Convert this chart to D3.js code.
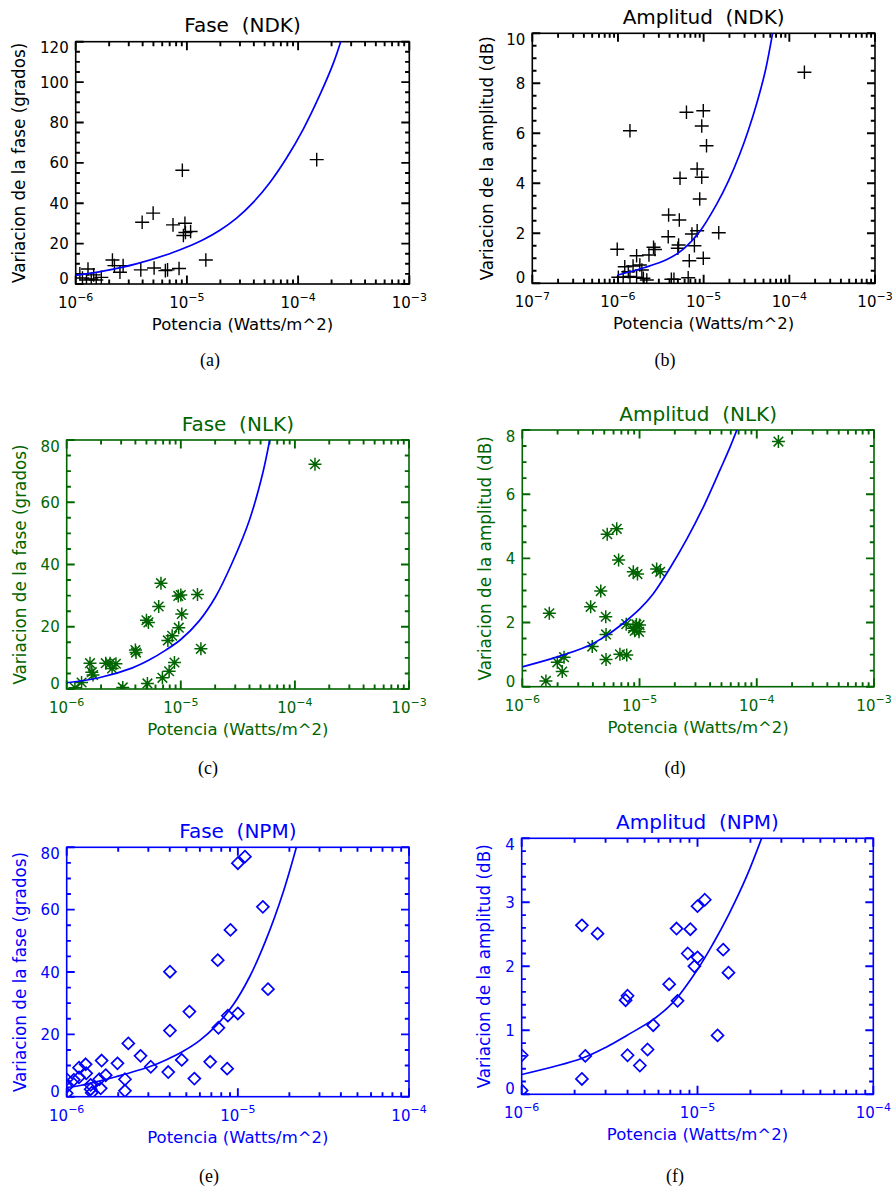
<!DOCTYPE html>
<html><head><meta charset="utf-8">
<script src="https://cdn.jsdelivr.net/npm/d3@7"></script>
<style>
body{margin:0;background:#fff}
svg{display:block;background:#fff}
text{font-family:"DejaVu Sans",sans-serif}
</style>
</head><body>
<svg id="chart" width="895" height="1190"></svg>
<script>
// ---------- DATA ----------
// (a) Fase (NDK)
const ndkFaseP = [1.09e-6,1.15e-6,1.25e-6,1.29e-6,1.38e-6,1.45e-6,1.53e-6,1.70e-6,2.14e-6,2.23e-6,2.50e-6,2.67e-6,3.85e-6,3.96e-6,4.97e-6,5.07e-6,6.40e-6,6.70e-6,7.50e-6,8.50e-6,9.10e-6,9.30e-6,9.60e-6,9.70e-6,1.08e-5,1.48e-5,1.47e-4];
const ndkFaseV = [5.0,3.0,2.0,7.4,2.5,4.5,2.0,3.3,11.9,9.1,5.8,9.1,7.0,30.6,35.1,7.9,6.6,7.0,29.3,7.7,56.3,24.0,30.1,25.5,26.0,11.9,61.6];
const ndkFaseFitP = [1e-6,1.76e-6,3.5e-6,7.0e-6,1e-5,1.4e-5,1.98e-5,2.8e-5,3.95e-5,5.6e-5,7.9e-5,1.12e-4,1.58e-4,2.08e-4,2.45e-4];
const ndkFaseFitV = [4.3,6.4,10.0,15.0,18.3,21.9,26.6,32.6,40.4,50.4,62.5,77.0,94.0,109.5,121.0];

// (b) Amplitud (NDK)
const ndkAmpP = [9.8e-7,1.01e-6,1.15e-6,1.20e-6,1.32e-6,1.38e-6,1.38e-6,1.50e-6,1.65e-6,1.65e-6,1.80e-6,1.90e-6,1.98e-6,2.17e-6,2.30e-6,2.60e-6,2.70e-6,3.86e-6,3.90e-6,4.20e-6,4.50e-6,5.00e-6,5.10e-6,5.20e-6,5.30e-6,6.30e-6,6.60e-6,6.80e-6,7.30e-6,7.80e-6,8.40e-6,8.40e-6,9.00e-6,9.50e-6,9.50e-6,9.90e-6,9.90e-6,1.08e-5,1.50e-5,1.50e-4];
const ndkAmpV = [1.36,0.24,0.24,0.66,0.46,6.10,0.27,0.69,1.10,0.24,0.73,0.53,0.20,0.13,1.13,1.44,1.35,1.86,2.73,0.16,0.16,1.40,1.53,2.53,4.20,6.84,0.22,0.90,1.97,1.50,4.57,2.10,3.37,6.29,4.24,6.90,1.00,5.50,2.02,8.44];
const ndkAmpFitP = [1e-6,2.0e-6,3.72e-6,5.75e-6,8.91e-6,1.41e-5,1.95e-5,2.63e-5,3.31e-5,4.17e-5,5.25e-5,6.45e-5];
const ndkAmpFitV = [0.33,0.62,0.95,1.36,2.05,3.15,4.1,5.15,6.1,7.2,8.5,10.1];

// (c) Fase (NLK)
const nlkFaseP = [1.18e-6,1.35e-6,1.60e-6,1.66e-6,1.70e-6,2.20e-6,2.40e-6,2.50e-6,2.70e-6,3.10e-6,4.00e-6,4.05e-6,5.00e-6,5.10e-6,5.20e-6,6.40e-6,6.70e-6,6.90e-6,7.70e-6,7.90e-6,8.40e-6,8.80e-6,9.50e-6,9.60e-6,1.00e-5,1.02e-5,1.40e-5,1.50e-5,1.50e-4];
const nlkFaseV = [0.4,2.1,8.3,5.4,4.5,8.3,8.3,6.6,8.1,0.5,12.5,11.7,22.1,1.8,21.4,26.5,34.0,3.6,15.6,5.7,17.1,8.5,29.9,19.7,30.2,24.1,30.4,12.9,72.2];
const nlkFaseFitP = [1e-6,1.92e-6,3.77e-6,5.27e-6,7.38e-6,1e-5,1.45e-5,2.03e-5,2.84e-5,3.97e-5,5.2e-5,6.05e-5];
const nlkFaseFitV = [2.0,3.6,6.8,9.3,12.5,15.9,21.9,29.8,40.8,54.0,69.0,80.5];

// (d) Amplitud (NLK)
const nlkAmpP = [1.59e-6,1.70e-6,1.99e-6,2.19e-6,2.27e-6,3.83e-6,3.95e-6,4.67e-6,5.15e-6,5.18e-6,5.18e-6,5.30e-6,6.39e-6,6.63e-6,6.80e-6,7.70e-6,7.78e-6,8.80e-6,8.85e-6,9.10e-6,9.40e-6,9.60e-6,9.90e-6,1.00e-5,1.40e-5,1.50e-5,1.53e-4];
const nlkAmpV = [0.18,2.29,0.76,0.47,0.92,2.49,1.25,2.98,2.18,1.63,0.85,4.75,4.92,3.95,1.01,1.95,0.99,1.82,3.58,1.74,1.94,3.51,1.71,1.92,3.67,3.58,7.64];
const nlkAmpFitP = [1e-6,1.84e-6,3.54e-6,5.25e-6,6.82e-6,1e-5,1.31e-5,1.82e-5,2.53e-5,3.5e-5,4.85e-5,5.89e-5,7.1e-5];
const nlkAmpFitV = [0.62,0.89,1.25,1.6,1.9,2.42,2.9,3.7,4.6,5.6,6.75,7.45,8.2];

// (e) Fase (NPM)
const npmFaseP = [1.0e-6,1.0e-6,1.0e-6,1.10e-6,1.18e-6,1.18e-6,1.29e-6,1.30e-6,1.38e-6,1.38e-6,1.40e-6,1.55e-6,1.58e-6,1.60e-6,1.69e-6,1.98e-6,2.19e-6,2.19e-6,2.29e-6,2.70e-6,3.10e-6,3.92e-6,4.01e-6,4.01e-6,4.70e-6,5.21e-6,5.57e-6,6.89e-6,7.63e-6,7.70e-6,8.66e-6,8.74e-6,9.05e-6,1.00e-5,1.00e-5,1.10e-5,1.40e-5,1.50e-5];
const npmFaseV = [5.6,3.2,1.1,5.4,9.3,6.2,10.4,7.5,3.8,2.4,1.3,5.6,2.7,11.6,6.9,10.7,5.6,1.9,17.1,13.1,9.6,7.9,40.1,21.2,11.8,27.3,5.8,11.2,43.8,22.1,9.0,26.0,53.5,74.9,26.7,77.0,60.9,34.5];
const npmFaseFitP = [1e-6,1.2e-6,1.55e-6,1.94e-6,3.04e-6,3.8e-6,4.76e-6,5.97e-6,7.47e-6,9.35e-6,1.17e-5,1.46e-5,1.84e-5,2.21e-5];
const npmFaseFitV = [3.0,3.6,5.0,6.4,9.6,11.8,14.5,18.0,22.8,29.3,38.4,50.3,65.6,80.5];

// (f) Amplitud (NPM)
const npmAmpP = [1.0e-6,1.0e-6,2.2e-6,2.2e-6,2.3e-6,2.7e-6,3.9e-6,4.0e-6,4.0e-6,4.7e-6,5.2e-6,5.6e-6,6.9e-6,7.6e-6,7.7e-6,8.8e-6,9.1e-6,9.6e-6,1.0e-5,1.0e-5,1.1e-5,1.3e-5,1.4e-5,1.5e-5];
const npmAmpV = [0.61,0.06,2.64,0.24,0.60,2.51,1.47,1.54,0.61,0.45,0.70,1.08,1.72,2.59,1.46,2.20,2.58,2.00,2.14,2.94,3.04,0.92,2.26,1.90];
const npmAmpFitP = [1e-6,2.19e-6,3.04e-6,3.96e-6,5.61e-6,7.29e-6,1e-5,1.23e-5,1.5e-5,1.9e-5,2.33e-5];
const npmAmpFitV = [0.31,0.56,0.74,0.92,1.17,1.44,1.95,2.36,2.80,3.40,4.02];

// Axis ticks / labels
const xDecades7to3 = [-7,-6,-5,-4,-3];
const xDecades6to3 = [-6,-5,-4,-3];
const xDecades6to4 = [-6,-5,-4];
const yTicksFase120 = [0,20,40,60,80,100,120];
const yTicksFase80 = [0,20,40,60,80];
const yTicksAmp10 = [0,2,4,6,8,10];
const yTicksAmp8 = [0,2,4,6,8];
const yTicksAmp4 = [0,1,2,3,4];
const titles = ["Fase  (NDK)","Amplitud  (NDK)","Fase  (NLK)","Amplitud  (NLK)","Fase  (NPM)","Amplitud  (NPM)"];
const yTitles = ["Variacion de la fase (grados)","Variacion de la amplitud (dB)"];
const xTitle = "Potencia (Watts/m^2)";
const captions = ["(a)","(b)","(c)","(d)","(e)","(f)"];

// ---------- LAYOUT ----------
const BLACK = "#000000", GREEN = "#006400", BLUE = "#0000ff";
const panels = [
  {box:[75.7,41.7,409.3,284], xDec:xDecades6to3, yT:yTicksFase120, yMinor:5, color:BLACK, marker:"plus", P:ndkFaseP, V:ndkFaseV, FP:ndkFaseFitP, FV:ndkFaseFitV, title:titles[0], yTitle:yTitles[0], yOff:57, cap:captions[0], capX:210, capY:366},
  {box:[532.3,33.3,875,283.3], xDec:xDecades7to3, yT:yTicksAmp10, yMinor:0.5, color:BLACK, marker:"plus", P:ndkAmpP, V:ndkAmpV, FP:ndkAmpFitP, FV:ndkAmpFitV, title:titles[1], yTitle:yTitles[1], yOff:45.5, cap:captions[1], capX:665, capY:366},
  {box:[66.7,440,409,689], xDec:xDecades6to3, yT:yTicksFase80, yMinor:5, color:GREEN, marker:"ast", P:nlkFaseP, V:nlkFaseV, FP:nlkFaseFitP, FV:nlkFaseFitV, title:titles[2], yTitle:yTitles[0], yOff:47, cap:captions[2], capX:208, capY:774},
  {box:[522.3,430,874,686.7], xDec:xDecades6to3, yT:yTicksAmp8, yMinor:0.5, color:GREEN, marker:"ast", P:nlkAmpP, V:nlkAmpV, FP:nlkAmpFitP, FV:nlkAmpFitV, title:titles[3], yTitle:yTitles[1], yOff:37, cap:captions[3], capX:675, capY:774},
  {box:[66.7,847.3,409,1096.7], xDec:xDecades6to4, yT:yTicksFase80, yMinor:5, color:BLUE, marker:"diamond", P:npmFaseP, V:npmFaseV, FP:npmFaseFitP, FV:npmFaseFitV, title:titles[4], yTitle:yTitles[0], yOff:47, cap:captions[4], capX:209, capY:1182},
  {box:[521.7,838.3,873.3,1094.3], xDec:xDecades6to4, yT:yTicksAmp4, yMinor:0.2, color:BLUE, marker:"diamond", P:npmAmpP, V:npmAmpV, FP:npmAmpFitP, FV:npmAmpFitV, title:titles[5], yTitle:yTitles[1], yOff:37.5, cap:captions[5], capX:675, capY:1182}
];

const markerPaths = {
  plus: "M-7,0H7M0,-6.8V6.8",
  ast: "M-6.5,0H6.5M0,-6.5V6.5M-4.8,-4.8L4.8,4.8M-4.8,4.8L4.8,-4.8",
  diamond: "M0,-6L6,0L0,6L-6,0Z"
};
const markerWidth = {plus:1.4, ast:1.5, diamond:1.7};

const svg = d3.select("#chart");

panels.forEach((p, i) => {
  const [x0,y0,x1,y1] = p.box;
  const g = svg.append("g");
  const x = d3.scaleLog().domain([Math.pow(10,p.xDec[0]), Math.pow(10,p.xDec[p.xDec.length-1])]).range([x0,x1]);
  const y = d3.scaleLinear().domain([p.yT[0], p.yT[p.yT.length-1]]).range([y1,y0]);

  const clipId = "clip" + i;
  g.append("clipPath").attr("id", clipId).append("rect")
    .attr("x", x0).attr("y", y0).attr("width", x1-x0).attr("height", y1-y0);

  // tick values
  const majX = p.xDec.map(e => Math.pow(10,e));
  const minX = x.ticks().filter(v => !majX.some(m => Math.abs(v/m - 1) < 1e-6));
  const majY = p.yT;
  const nMin = Math.round((majY[majY.length-1]-majY[0]) / p.yMinor);
  const minY = d3.range(nMin+1).map(k => +(majY[0] + k*p.yMinor).toFixed(6))
    .filter(v => !majY.some(m => Math.abs(v-m) < 1e-9));

  // tick marks (inward on all four sides), positioned with the scales
  const xTickPath = (vals, len) => vals.map(d => {
    const px = x(d).toFixed(2);
    return `M${px},${y1}V${(y1-len).toFixed(2)}M${px},${y0}V${(y0+len).toFixed(2)}`;
  }).join("");
  const yTickPath = (vals, len) => vals.map(d => {
    const py = y(d).toFixed(2);
    return `M${x0},${py}H${(x0+len).toFixed(2)}M${x1},${py}H${(x1-len).toFixed(2)}`;
  }).join("");

  // frame
  g.append("rect").attr("x", x0).attr("y", y0).attr("width", x1-x0).attr("height", y1-y0)
    .attr("fill", "none").attr("stroke", p.color).attr("stroke-width", 1.6);

  g.append("path").attr("d", xTickPath(majX, 8.5) + xTickPath(minX, 4.5) + yTickPath(majY, 8) + yTickPath(minY, 4.2))
    .attr("fill","none").attr("stroke", p.color).attr("stroke-width", 1.9);

  // x tick labels
  const xl = g.selectAll("text.xl").data(p.xDec).join("text")
    .attr("class","xl")
    .attr("x", e => x(Math.pow(10,e)))
    .attr("y", y1 + 24)
    .attr("text-anchor","middle")
    .attr("fill", p.color)
    .style("font-size","15px");
  xl.append("tspan").text("10");
  xl.append("tspan").attr("dy", -7.5).style("font-size","11px").text(e => "\u2212" + Math.abs(e));

  // y tick labels
  g.selectAll("text.yl").data(majY).join("text")
    .attr("class","yl")
    .attr("x", x0 - 7)
    .attr("y", (v, k) => y(v) + 5.5 + (k === 0 ? -5.5 : (k === majY.length-1 ? 6 : 0)))
    .attr("text-anchor","end")
    .attr("fill", p.color)
    .style("font-size","15px")
    .text(v => d3.format("d")(v));

  // titles
  g.append("text").attr("x", (x0+x1)/2).attr("y", y0 - 9.5)
    .attr("text-anchor","middle").attr("fill", p.color)
    .style("font-size","20px").style("white-space","pre").text(p.title);
  g.append("text").attr("x", (x0+x1)/2).attr("y", y1 + 46)
    .attr("text-anchor","middle").attr("fill", p.color)
    .style("font-size","16.5px").text(xTitle);
  g.append("text")
    .attr("transform", `translate(${x0 - p.yOff},${(y0+y1)/2}) rotate(-90)`)
    .attr("text-anchor","middle").attr("dominant-baseline","central")
    .attr("fill", p.color)
    .style("font-size","16.8px").text(p.yTitle);

  // caption
  g.append("text").attr("x", p.capX).attr("y", p.capY)
    .attr("text-anchor","middle").attr("fill","#000")
    .style("font-family","'Liberation Serif','DejaVu Serif',serif")
    .style("font-size","18px").text(p.cap);

  // data markers
  const pts = d3.zip(p.P, p.V);
  g.append("g").attr("clip-path", `url(#${clipId})`)
    .selectAll("path").data(pts).join("path")
    .attr("transform", d => `translate(${x(d[0])},${y(d[1])})`)
    .attr("d", markerPaths[p.marker])
    .attr("fill","none")
    .attr("stroke", p.color)
    .attr("stroke-width", markerWidth[p.marker]);

  // fitted curve
  const line = d3.line().x(d => x(d[0])).y(d => y(d[1])).curve(d3.curveCatmullRom.alpha(0.5));
  g.append("path").attr("clip-path", `url(#${clipId})`)
    .datum(d3.zip(p.FP, p.FV))
    .attr("d", line)
    .attr("fill","none")
    .attr("stroke", BLUE)
    .attr("stroke-width", 1.7);
});
</script>
</body></html>
